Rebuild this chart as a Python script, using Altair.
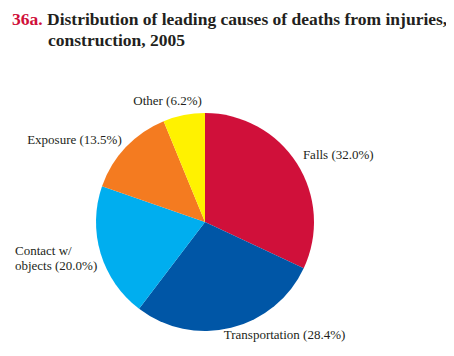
import math
import altair as alt
import pandas as pd

# ---- data ----
causes = ["Falls", "Transportation", "Contact w/ objects", "Exposure", "Other"]
shares = [32.0, 28.4, 20.0, 13.5, 6.2]
labels = ["Falls (32.0%)", "Transportation (28.4%)", "Contact w/\nobjects (20.0%)",
          "Exposure (13.5%)", "Other (6.2%)"]
colors = ["#D0103A", "#0056A6", "#00AEEF", "#F47B20", "#FFF200"]
title_num = ["36a."]
title_lines = ["Distribution of leading causes of deaths from injuries,", "construction, 2005"]

df = pd.DataFrame({"cause": causes, "share": shares, "label": labels,
                   "order": list(range(len(causes)))})

total = sum(shares)
theta_scale = alt.Scale(domain=[0, total], range=[0, 2 * math.pi])
CX, CY = 197, 214
R = 109
FONT = "Liberation Serif"

base = alt.Chart(df).transform_window(
    cum="sum(share)", sort=[alt.SortField("order")], frame=[None, 0]
).transform_calculate(
    start="datum.cum - datum.share", mid="datum.cum - datum.share / 2"
)

arcs = base.mark_arc(radius=R).encode(
    theta=alt.Theta("start:Q", scale=theta_scale, stack=None),
    theta2="cum:Q",
    color=alt.Color("cause:N", scale=alt.Scale(domain=causes, range=colors), legend=None),
    x=alt.value(CX), y=alt.value(CY),
)


def label_layer(name, align, dx, dy):
    return base.transform_filter(alt.datum.cause == name).mark_text(
        radius=116, align=align, baseline="middle", dx=dx, dy=dy,
        font=FONT, fontSize=13, lineBreak="\n", lineHeight=15, color="#231F20",
    ).encode(
        theta=alt.Theta("mid:Q", scale=theta_scale, stack=None),
        text="label:N",
        x=alt.value(CX), y=alt.value(CY),
    )


lbls = [
    label_layer("Falls", "left", 0, -5),
    label_layer("Transportation", "left", -9, 0),
    label_layer("Contact w/ objects", "left", -79, -5),
    label_layer("Exposure", "right", 1, -2),
    label_layer("Other", "center", -15, -7),
]

TS = 17.5
tnum = alt.Chart(pd.DataFrame({"t": title_num})).mark_text(
    align="left", baseline="alphabetic", font=FONT, fontSize=TS, fontWeight="bold",
    color="#D0103A",
).encode(text="t:N", x=alt.value(4), y=alt.value(17))

tdf = pd.DataFrame({"t": title_lines, "row": [0, 1]})
tline1 = alt.Chart(tdf).transform_filter(alt.datum.row == 0).mark_text(
    align="left", baseline="alphabetic", font=FONT, fontSize=TS, fontWeight="bold",
    color="#231F20",
).encode(text="t:N", x=alt.value(39), y=alt.value(17))
tline2 = alt.Chart(tdf).transform_filter(alt.datum.row == 1).mark_text(
    align="left", baseline="alphabetic", font=FONT, fontSize=TS, fontWeight="bold",
    color="#231F20",
).encode(text="t:N", x=alt.value(40), y=alt.value(38))

chart = alt.layer(arcs, *lbls, tnum, tline1, tline2).properties(
    width=438, height=340, autosize="none", padding=0,
    background="white",
).configure_view(stroke=None)

chart.save("out.html", embed_options={"renderer": "svg", "actions": False})
